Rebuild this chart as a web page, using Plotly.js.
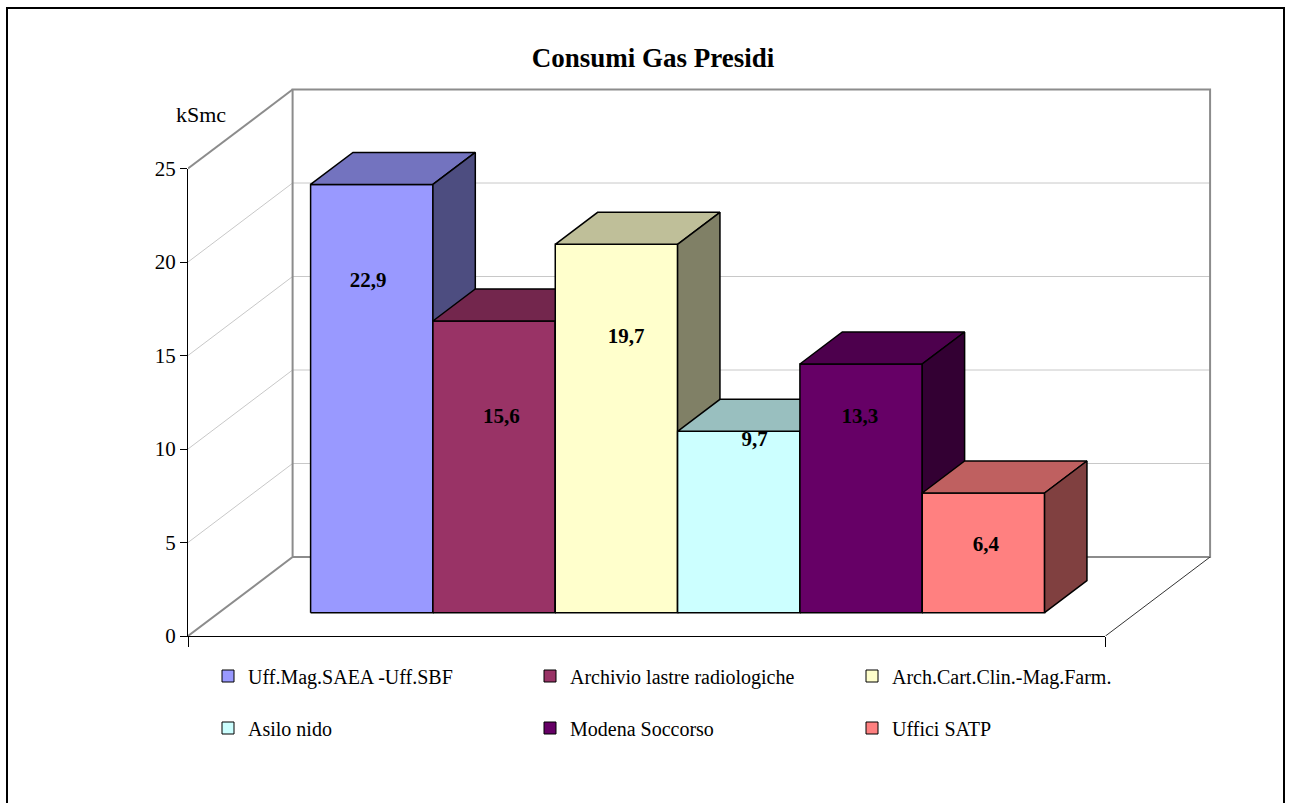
<!DOCTYPE html>
<html><head><meta charset="utf-8">
<script src="https://cdn.plot.ly/plotly-3.0.1.min.js"></script>
<style>html,body{margin:0;padding:0;background:#fff;} #chart{width:1291px;height:803px;}</style>
</head><body><div id="chart"></div>
<script>
// ---------------- data ----------------
const categories = ['Uff.Mag.SAEA -Uff.SBF', 'Archivio lastre radiologiche', 'Arch.Cart.Clin.-Mag.Farm.',
                    'Asilo nido', 'Modena Soccorso', 'Uffici SATP'];
const values = [22.9, 15.6, 19.7, 9.7, 13.3, 6.4];
const valueLabels = ['22,9', '15,6', '19,7', '9,7', '13,3', '6,4'];
const yTickVals = [0, 5, 10, 15, 20, 25];
const yTickText = ['0', '5', '10', '15', '20', '25'];
const gridLevels = [5, 10, 15, 20];
const chartTitle = 'Consumi Gas Presidi';
const unitLabel = 'kSmc';

// ---------------- styles ----------------
const frontColors = ['#9999FF', '#993366', '#FFFFCC', '#CCFFFF', '#660066', '#FF8080'];
const labelLevel = [17.7, 10.4, 14.7, 9.2, 10.4, 3.6];       // label height (kSmc) as placed by the original
const labelShift = [-0.03, 0.06, 0.08, 0.13, -0.01, 0.02];  // horizontal nudge in bar widths
const FONT = 'Liberation Serif, Times New Roman, serif';

// ---------------- geometry (projection of the pseudo-3D box) ----------------
const W = 1291, H = 803;
const PL = 188, PB = 636, PR = 1230, PT = 78;     // plot area in px
const PXX = 122.33, PXY = 18.7;                    // px per x unit / per kSmc
const DX = 104.6 / PXX, DY = 79 / PXY;             // full depth offset in axis units
const F1 = 0.295, F2 = 0.70;                       // bar front / back depth
const GAP = 0.75;                                  // side gap (bar widths)
const NX = categories.length + 2 * GAP;            // floor width in bar widths
const YMAXV = 25;
const xmax = (PR - PL) / PXX, ymax = (PB - PT) / PXY;
const pw = PR - PL, ph = PB - PT;
const px2paperX = p => (p - PL) / pw;
const px2paperY = p => (PB - p) / ph;

function P(x, v, d) { return [x + d * DX, v + d * DY]; }
function poly(pts) {
  const xs = [], ys = [];
  pts.forEach(p => { xs.push(p[0]); ys.push(p[1]); });
  xs.push(pts[0][0]); ys.push(pts[0][1]);
  return {x: xs, y: ys};
}
function shade(hex, k) {
  const n = parseInt(hex.slice(1), 16);
  const r = Math.round(((n >> 16) & 255) * k), g = Math.round(((n >> 8) & 255) * k), b = Math.round((n & 255) * k);
  return 'rgb(' + r + ',' + g + ',' + b + ')';
}
function lineTrace(pts, color, width) {
  const xs = pts.map(p => p[0]), ys = pts.map(p => p[1]);
  return {type: 'scatter', mode: 'lines', x: xs, y: ys, line: {color: color, width: width},
          hoverinfo: 'skip', showlegend: false};
}

const traces = [];
// grid lines (left wall + back wall)
gridLevels.forEach(v => {
  traces.push(lineTrace([P(0, v, 0), P(0, v, 1), P(NX, v, 1)], '#C8C8C8', 1));
});
// walls edges
traces.push(lineTrace([P(0, 0, 0), P(0, 0, 1), P(NX, 0, 1), P(NX, YMAXV, 1), P(0, YMAXV, 1), P(0, 0, 1)], '#8C8C8C', 2));
traces.push(lineTrace([P(0, YMAXV, 0), P(0, YMAXV, 1)], '#8C8C8C', 2));
traces.push(lineTrace([P(NX, 0, 0), P(NX, 0, 1)], '#333333', 1));

// bars: front, top, side faces (left to right so that each covers the previous side)
values.forEach((v, i) => {
  const x0 = GAP + i, x1 = x0 + 1;
  const faces = [
    [[P(x0, 0, F1), P(x1, 0, F1), P(x1, v, F1), P(x0, v, F1)], frontColors[i]],
    [[P(x0, v, F1), P(x1, v, F1), P(x1, v, F2), P(x0, v, F2)], shade(frontColors[i], 0.75)],
    [[P(x1, 0, F1), P(x1, 0, F2), P(x1, v, F2), P(x1, v, F1)], shade(frontColors[i], 0.5)]
  ];
  faces.forEach(f => {
    const pg = poly(f[0]);
    traces.push({type: 'scatter', mode: 'lines', x: pg.x, y: pg.y, fill: 'toself', fillcolor: f[1],
                 line: {color: '#000', width: 1.5}, hoverinfo: 'skip', showlegend: false,
                 legendgroup: 'g' + i});
  });
});

// value labels
const lab = values.map((v, i) => P(GAP + i + 0.5 + labelShift[i], labelLevel[i], F1));
traces.push({type: 'scatter', mode: 'text', x: lab.map(p => p[0]), y: lab.map(p => p[1]),
             text: valueLabels.map(t => '<b>' + t + '</b>'), textposition: 'middle center',
             textfont: {family: FONT, size: 21, color: '#000'}, hoverinfo: 'skip', showlegend: false});

// legend entries (bars kept outside the visible range of the secondary axes)
categories.forEach((c, i) => {
  traces.push({type: 'bar', name: c, x: [-5], y: [1], xaxis: 'x2', yaxis: 'y2',
               marker: {color: frontColors[i], line: {color: '#000', width: 1}},
               legend: i < 3 ? 'legend' : 'legend2', legendgroup: 'g' + i, hoverinfo: 'skip'});
});

const legendBase = {orientation: 'h', xanchor: 'left', yanchor: 'middle', x: px2paperX(208),
                    font: {family: FONT, size: 20, color: '#000'}, bgcolor: 'rgba(0,0,0,0)',
                    entrywidth: 277, entrywidthmode: 'pixels', traceorder: 'normal', itemclick: false, itemdoubleclick: false};

const layout = {
  width: W, height: H,
  margin: {l: PL, r: W - PR, t: PT, b: H - PB, autoexpand: false},
  paper_bgcolor: '#fff', plot_bgcolor: 'rgba(0,0,0,0)',
  showlegend: true,
  font: {family: FONT, size: 20, color: '#000'},
  title: {text: '<b>' + chartTitle + '</b>', font: {family: FONT, size: 27, color: '#000'},
          xref: 'container', yref: 'container', x: 653 / W, xanchor: 'center', y: 1 - 58 / H, yanchor: 'middle'},
  xaxis: {range: [0, xmax], visible: false, fixedrange: true},
  yaxis: {range: [0, ymax], visible: false, fixedrange: true},
  xaxis2: {domain: [0, NX / xmax], range: [0, NX], anchor: 'y2', showline: true, linecolor: '#000', linewidth: 1,
           ticks: 'outside', ticklen: 10, tickwidth: 1, tickcolor: '#000', tickvals: [0, NX],
           showticklabels: false, showgrid: false, zeroline: false, fixedrange: true},
  yaxis2: {domain: [0, YMAXV / ymax], range: [0, YMAXV], anchor: 'x2', showline: true, linecolor: '#000', linewidth: 1,
           ticks: 'outside', ticklen: 7, tickwidth: 1, tickcolor: '#000', tickvals: yTickVals, ticktext: yTickText,
           tickfont: {family: FONT, size: 21, color: '#000'}, showgrid: false, zeroline: false, fixedrange: true},
  barmode: 'overlay',
  legend: Object.assign({}, legendBase, {y: px2paperY(676)}),
  legend2: Object.assign({}, legendBase, {y: px2paperY(728)}),
  annotations: [{text: unitLabel, xref: 'paper', yref: 'paper', x: px2paperX(201), y: px2paperY(114),
                 xanchor: 'center', yanchor: 'middle', showarrow: false, font: {family: FONT, size: 22, color: '#000'}}],
  shapes: [{type: 'rect', xref: 'paper', yref: 'paper', x0: px2paperX(7), x1: px2paperX(1284),
            y0: px2paperY(812), y1: px2paperY(8), line: {color: '#000', width: 2}, fillcolor: 'rgba(0,0,0,0)'}]
};

Plotly.newPlot('chart', traces, layout, {displayModeBar: false, staticPlot: true});
</script>
</body></html>
